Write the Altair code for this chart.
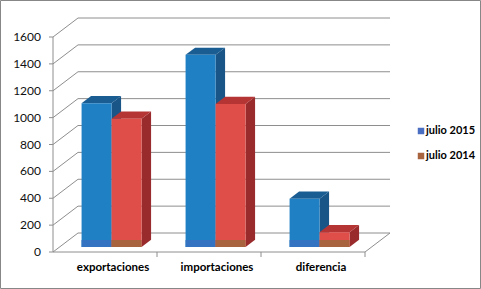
import altair as alt
import pandas as pd

# ---- data ----
categories = ["exportaciones", "importaciones", "diferencia"]
series = ["julio 2015", "julio 2014"]
julio_2015 = [1070, 1430, 360]
julio_2014 = [955, 1065, 110]
y_ticks = [0, 200, 400, 600, 800, 1000, 1200, 1400, 1600]

# ---- layout (pixels) ----
W, H = 481, 289
X0 = 53            # front-left corner of the floor
FLOOR = 252        # pixel row of value 0 on the front plane
K = 215 / 1600     # pixels per unit
DX, DY = 25, 19    # depth offset of the back wall
SLOT = 104
GAP = 22
BAR_W = 30
D0 = 0.263         # depth of bar front faces
BD = 0.38          # bar depth fraction
STRIP = 7          # px of bottom strip

front_colors = ["#2080c4", "#e04e49"]
top_colors = ["#1a5d92", "#b53535"]
side_colors = ["#1a5587", "#992b2c"]
strip_colors = ["#3373c2", "#a8643f"]
legend_colors = ["#4a6ec1", "#a8643f"]
grid_color = "#8e8e8e"
font = "Lato"


def u(px):
    return px / K


xs = alt.Scale(domain=[0, W], range=[0, W])
ys = alt.Scale(domain=[u(FLOOR - H), u(FLOOR)], range=[H, 0])


def X(f):
    return alt.X(f, type="quantitative", scale=xs, axis=None)


def Y(f):
    return alt.Y(f, type="quantitative", scale=ys, axis=None)


layers = []

# back wall gridlines
grid = pd.DataFrame({"v": y_ticks})
grid["x"] = X0 + DX
grid["x2"] = X0 + DX + SLOT * len(categories)
grid["yb"] = grid["v"] + u(DY)
grid["xf"] = X0
layers.append(alt.Chart(grid).mark_rule(color=grid_color, strokeWidth=1).encode(
    x=X("x"), x2="x2", y=Y("yb")))
# left wall diagonals
layers.append(alt.Chart(grid).mark_rule(color=grid_color, strokeWidth=1).encode(
    x=X("xf"), x2="x", y=Y("v"), y2="yb"))
# y ticks
grid["xt"] = X0 - 4
layers.append(alt.Chart(grid).mark_rule(color=grid_color, strokeWidth=1).encode(
    x=X("xt"), x2="xf", y=Y("v")))
# y labels
grid["xl"] = X0 - 12
layers.append(alt.Chart(grid).mark_text(align="right", baseline="middle", font=font,
                                         fontSize=12, color="#111").encode(
    x=X("xl"), y=Y("v"), text="v:Q"))

# front vertical axis line
axis_df = pd.DataFrame({"x": [X0], "y": [0], "y2": [y_ticks[-1]]})
layers.append(alt.Chart(axis_df).mark_rule(color=grid_color).encode(
    x=X("x"), y=Y("y"), y2="y2"))

# floor: front edge and right edge
n = len(categories)
floor_df = pd.DataFrame({
    "x": [X0, X0 + SLOT * n],
    "x2": [X0 + SLOT * n, X0 + SLOT * n + DX],
    "y": [0, 0],
    "y2": [0, u(DY)],
})
layers.append(alt.Chart(floor_df).mark_rule(color=grid_color).encode(
    x=X("x"), x2="x2", y=Y("y"), y2="y2"))
# category ticks
ct = pd.DataFrame({"x": [X0 + SLOT * (i + 1) for i in range(n)]})
ct["y"] = 0
ct["y2"] = u(-5)
layers.append(alt.Chart(ct).mark_rule(color=grid_color).encode(
    x=X("x"), y=Y("y"), y2="y2"))

# bars
values = [julio_2015, julio_2014]
base = u(D0 * DY)
ddx = BD * DX
ddy = u(BD * DY)
for j, vals in enumerate(values):
    fr, side, top = [], [], []
    for i, v in enumerate(vals):
        xl = X0 + SLOT * i + GAP + BAR_W * j + D0 * DX
        xr = xl + BAR_W
        t = base + v
        fr.append({"x": xl, "x2": xr, "y": base, "y2": t, "ys": base + u(STRIP)})
        side += [
            {"g": i, "x": xr, "y": t, "y2": base},
            {"g": i, "x": xr + ddx, "y": t + ddy, "y2": base + ddy},
        ]
        top += [
            {"g": i, "x": xl, "y": t, "y2": t},
            {"g": i, "x": xl + ddx, "y": t + ddy, "y2": t},
            {"g": i, "x": xr, "y": t + ddy, "y2": t},
            {"g": i, "x": xr + ddx, "y": t + ddy, "y2": t + ddy},
        ]
    layers.append(alt.Chart(pd.DataFrame(side)).mark_area(
        color=side_colors[j], interpolate="linear").encode(
        x=X("x"), y=Y("y"), y2="y2", detail="g:N"))
    layers.append(alt.Chart(pd.DataFrame(top)).mark_area(
        color=top_colors[j], interpolate="linear").encode(
        x=X("x"), y=Y("y"), y2="y2", detail="g:N"))
    fdf = pd.DataFrame(fr)
    layers.append(alt.Chart(fdf).mark_rect(color=front_colors[j]).encode(
        x=X("x"), x2="x2", y=Y("y"), y2="y2"))
    layers.append(alt.Chart(fdf).mark_rect(color=strip_colors[j]).encode(
        x=X("x"), x2="x2", y=Y("y"), y2="ys"))

# category labels
cl = pd.DataFrame({"c": categories})
cl["x"] = [X0 + SLOT * (i + 0.5) + 8 for i in range(n)]
cl["y"] = u(-16)
layers.append(alt.Chart(cl).mark_text(font=font, fontSize=11.5, fontWeight="bold",
                                       color="#000", baseline="middle").encode(
    x=X("x"), y=Y("y"), text="c:N"))

# legend
lg = pd.DataFrame({"s": series, "col": legend_colors})
lg["y"] = [u(FLOOR - (131 + 25 * j)) for j in range(len(series))]
lg["x"] = 421
lg["xt"] = 426
layers.append(alt.Chart(lg).mark_square(size=42, opacity=1).encode(
    x=X("x"), y=Y("y"),
    color=alt.Color("s:N", scale=alt.Scale(domain=series, range=legend_colors), legend=None)))
layers.append(alt.Chart(lg).mark_text(align="left", baseline="middle", font=font,
                                       fontSize=11, fontWeight="bold", color="#000").encode(
    x=X("xt"), y=Y("y"), text="s:N"))

# outer frame
frame = pd.DataFrame({"a": [0]})
layers.append(alt.Chart(frame).mark_rect(fill=None, stroke="#878787", strokeWidth=1).encode(
    x=alt.value(0.5), x2=alt.value(W - 0.5), y=alt.value(0.5), y2=alt.value(H - 0.5)))

chart = alt.layer(*layers).properties(
    width=W, height=H, padding=0, autosize=alt.AutoSizeParams(type="none"),
    background="white",
).configure_view(stroke=None)

chart.save("out.html", embed_options={"renderer": "svg", "actions": False})
